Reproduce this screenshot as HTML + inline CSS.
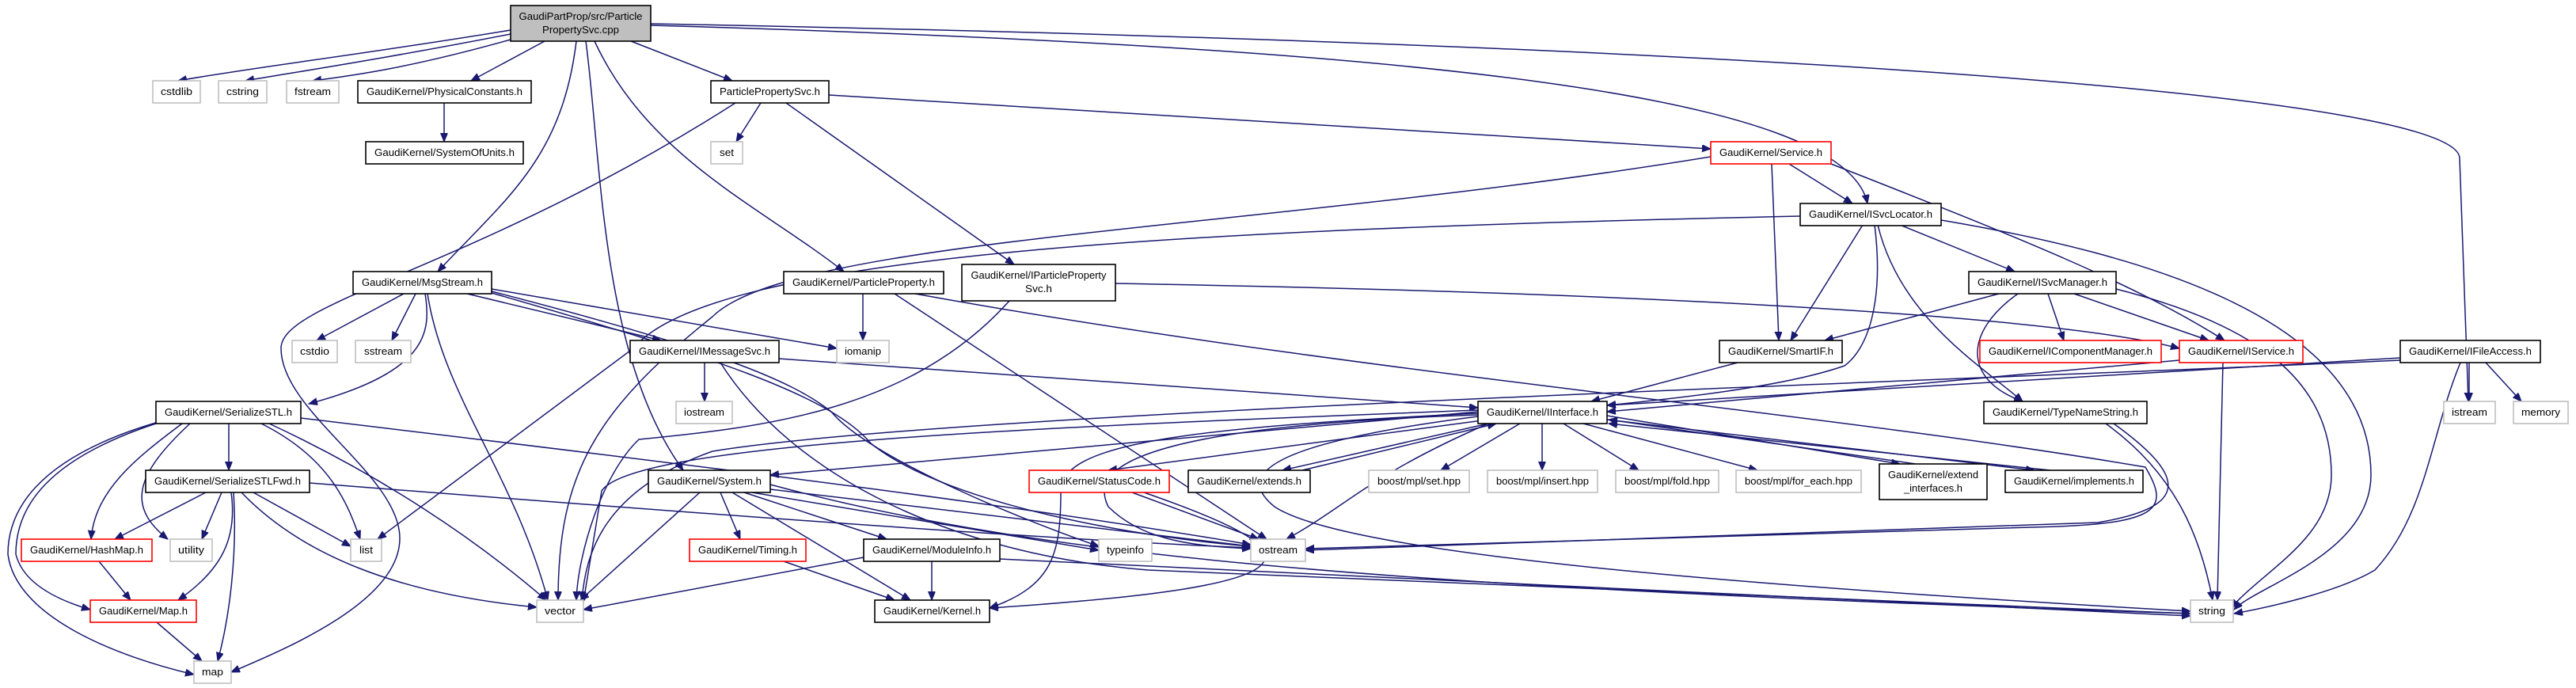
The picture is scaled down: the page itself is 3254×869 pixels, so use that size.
<!DOCTYPE html>
<html><head><meta charset="utf-8"><style>
html,body{margin:0;padding:0;background:#fff}
svg{display:block}
text{font-family:"Liberation Sans",Arial,sans-serif;font-size:13px;fill:#000}
.e{fill:none;stroke:#191970;stroke-width:1.5}
.b{fill:#fff;stroke:#000;stroke-width:1.6}
.g{fill:#fff;stroke:#bfbfbf;stroke-width:1.6}
.r{fill:#fff;stroke:#ff0000;stroke-width:1.6}
</style></head><body>
<svg width="3254" height="869" viewBox="0 0 3254 869" xmlns="http://www.w3.org/2000/svg">
<defs><marker id="a" markerUnits="userSpaceOnUse" markerWidth="12" markerHeight="10" refX="11" refY="4.5" orient="auto"><path d="M0,0 L11,4.5 L0,9 z" fill="#191970" stroke="#191970"/></marker></defs>
<g class="e" marker-end="url(#a)">
<path d="M645,38 C450,70 320,85 225,102"/>
<path d="M645,43 C480,75 380,90 310,102"/>
<path d="M645,50 C520,85 450,95 395,102"/>
<path d="M688,52 L595,102"/>
<path d="M797,52 L925,102"/>
<path d="M728,52 C710,200 640,250 553,343"/>
<path d="M740,52 C760,200 758,450 863,594"/>
<path d="M751,52 C820,200 960,260 1066,343"/>
<path d="M822,32 C1800,60 2330,120 2359,257"/>
<path d="M822,30 C2400,60 3107,130 3107,200 L3118,507"/>
<path d="M561,130 L561,179"/>
<path d="M961,130 L930,179"/>
<path d="M1047,120 L2161,188"/>
<path d="M993,130 L1281,334"/>
<path d="M929,130 C600,340 355,380 355,440 C355,520 505,600 505,680 C505,760 360,820 292,849"/>
<path d="M2238,207 L2247,430"/>
<path d="M2260,207 L2340,257"/>
<path d="M2313,207 C2550,300 2700,360 2810,430"/>
<path d="M2161,198 C1600,290 1000,300 900,400 C750,520 705,600 705,758"/>
<path d="M2274,273 C1500,290 900,320 800,440 L477,681"/>
<path d="M2353,284 L2262,430"/>
<path d="M2368,284 C2380,380 2360,440 2330,462 C2250,490 2100,505 2030,512"/>
<path d="M2372,284 C2400,400 2500,460 2555,507"/>
<path d="M2400,284 L2545,343"/>
<path d="M2452,278 C2700,320 2995,400 2995,600 C2995,700 2850,740 2822,770"/>
<path d="M2525,371 L2305,430"/>
<path d="M2549,371 C2480,420 2480,480 2555,507"/>
<path d="M2587,371 L2607,430"/>
<path d="M2620,371 L2790,430"/>
<path d="M2673,365 C2850,410 2945,480 2945,600 C2945,680 2860,720 2818,768"/>
<path d="M1409,358 C2100,370 2600,400 2753,440"/>
<path d="M1275,380 C1150,520 960,540 807,555 C760,600 730,700 728,758"/>
<path d="M1090,371 L1090,430"/>
<path d="M1156,371 C1700,470 2300,520 2710,590 C2740,640 2730,660 2600,665 L1649,693"/>
<path d="M1130,371 L1600,681"/>
<path d="M510,371 L400,430"/>
<path d="M525,371 L495,430"/>
<path d="M537,371 C545,420 540,470 390,510"/>
<path d="M590,371 L835,430"/>
<path d="M621,365 L1057,440"/>
<path d="M540,371 C560,500 650,600 692,758"/>
<path d="M621,368 C900,440 1000,480 1050,520 C1100,580 1300,660 1388,690"/>
<path d="M621,370 C900,450 1050,500 1100,560 C1200,640 1450,680 1580,690"/>
<path d="M890,458 L890,507"/>
<path d="M984,453 L1867,515"/>
<path d="M910,458 C1000,600 1200,700 1450,720 L2767,775"/>
<path d="M2195,458 L2010,507"/>
<path d="M2808,458 L2801,758"/>
<path d="M2753,455 L2030,520"/>
<path d="M3032,452 L2030,512"/>
<path d="M3119,458 L3119,507"/>
<path d="M3140,458 L3185,507"/>
<path d="M3108,458 C3070,550 3065,650 3000,720 C2950,750 2850,770 2822,775"/>
<path d="M3032,455 C2500,480 1200,520 900,570 C760,620 740,700 735,758"/>
<path d="M1867,518 C1300,540 800,560 760,620 L737,760"/>
<path d="M1867,520 L973,600"/>
<path d="M1880,530 L1400,594"/>
<path d="M1880,535 L1620,594"/>
<path d="M1645,594 L1890,535"/>
<path d="M1920,535 L1820,594"/>
<path d="M1948,535 L1948,594"/>
<path d="M1975,535 L2070,594"/>
<path d="M2000,535 L2220,594"/>
<path d="M2030,525 L2400,586"/>
<path d="M2420,586 L2032,530"/>
<path d="M2030,530 L2570,594"/>
<path d="M2590,594 L2032,535"/>
<path d="M1880,535 C1730,600 1700,640 1625,681"/>
<path d="M1867,522 C1500,540 1340,560 1340,620 C1340,700 1330,740 1250,768"/>
<path d="M1867,524 C1400,540 1380,600 1400,640 C1440,680 1500,690 1580,693"/>
<path d="M1867,526 C1600,560 1560,600 1610,640 C1700,700 2200,740 2767,772"/>
<path d="M2660,535 C2750,600 2780,680 2795,758"/>
<path d="M2670,535 C2760,600 2770,640 2650,660 L1649,695"/>
<path d="M1430,622 L1590,681"/>
<path d="M1445,622 C1670,700 1680,740 1250,768"/>
<path d="M884,622 L733,758"/>
<path d="M910,622 L935,681"/>
<path d="M925,622 L1150,758"/>
<path d="M940,622 L1120,681"/>
<path d="M950,622 L1388,695"/>
<path d="M973,618 L1580,690"/>
<path d="M973,612 C1300,700 1700,740 2767,775"/>
<path d="M990,709 L1130,758"/>
<path d="M1177,709 L1177,758"/>
<path d="M1091,704 L737,770"/>
<path d="M1263,706 L2767,778"/>
<path d="M289,535 L289,594"/>
<path d="M230,535 C170,580 120,620 115,681"/>
<path d="M197,535 C60,580 20,640 20,700 C30,740 80,760 114,770"/>
<path d="M240,535 C170,600 160,640 212,681"/>
<path d="M330,535 C420,580 440,640 455,681"/>
<path d="M340,535 C480,600 600,680 690,758"/>
<path d="M200,533 C40,580 10,650 10,700 C20,780 150,830 245,852"/>
<path d="M380,528 C900,590 1300,640 1580,688"/>
<path d="M260,622 L145,681"/>
<path d="M280,622 L255,681"/>
<path d="M292,622 C300,680 280,720 225,758"/>
<path d="M295,622 C300,700 290,780 275,835"/>
<path d="M320,622 L443,690"/>
<path d="M305,622 C380,700 500,750 678,767"/>
<path d="M391,610 C900,650 1300,680 1580,692"/>
<path d="M125,709 L165,758"/>
<path d="M198,786 L255,835"/>
</g>
<g>
<rect class="b" x="645" y="7" width="177" height="45" style="fill:#bfbfbf"/>
<text x="733.5" y="25" text-anchor="middle" textLength="156" lengthAdjust="spacingAndGlyphs">GaudiPartProp/src/Particle</text>
<text x="733.5" y="42" text-anchor="middle" textLength="97" lengthAdjust="spacingAndGlyphs">PropertySvc.cpp</text>

<rect class="g" x="193" y="102" width="60" height="28"/><text x="223" y="120" text-anchor="middle" textLength="40" lengthAdjust="spacingAndGlyphs">cstdlib</text>
<rect class="g" x="276" y="102" width="61" height="28"/><text x="306.5" y="120" text-anchor="middle" textLength="41" lengthAdjust="spacingAndGlyphs">cstring</text>
<rect class="g" x="362" y="102" width="66" height="28"/><text x="395" y="120" text-anchor="middle" textLength="46" lengthAdjust="spacingAndGlyphs">fstream</text>
<rect class="b" x="452" y="102" width="219" height="28"/><text x="561.5" y="120" text-anchor="middle" textLength="197" lengthAdjust="spacingAndGlyphs">GaudiKernel/PhysicalConstants.h</text>
<rect class="b" x="898" y="102" width="149" height="28"/><text x="972.5" y="120" text-anchor="middle" textLength="127" lengthAdjust="spacingAndGlyphs">ParticlePropertySvc.h</text>

<rect class="b" x="462" y="179" width="199" height="28"/><text x="561.5" y="197" text-anchor="middle" textLength="177" lengthAdjust="spacingAndGlyphs">GaudiKernel/SystemOfUnits.h</text>
<rect class="g" x="898" y="179" width="40" height="28"/><text x="918" y="197" text-anchor="middle" textLength="18" lengthAdjust="spacingAndGlyphs">set</text>
<rect class="r" x="2161" y="179" width="152" height="28"/><text x="2237" y="197" text-anchor="middle" textLength="130" lengthAdjust="spacingAndGlyphs">GaudiKernel/Service.h</text>

<rect class="b" x="2274" y="257" width="178" height="28"/><text x="2363" y="275" text-anchor="middle" textLength="156" lengthAdjust="spacingAndGlyphs">GaudiKernel/ISvcLocator.h</text>

<rect class="b" x="446" y="343" width="175" height="28"/><text x="533.5" y="361" text-anchor="middle" textLength="153" lengthAdjust="spacingAndGlyphs">GaudiKernel/MsgStream.h</text>
<rect class="b" x="990" y="343" width="202" height="28"/><text x="1091" y="361" text-anchor="middle" textLength="180" lengthAdjust="spacingAndGlyphs">GaudiKernel/ParticleProperty.h</text>
<rect class="b" x="1215" y="334" width="194" height="46"/>
<text x="1312" y="352" text-anchor="middle" textLength="171" lengthAdjust="spacingAndGlyphs">GaudiKernel/IParticleProperty</text>
<text x="1312" y="369" text-anchor="middle" textLength="34" lengthAdjust="spacingAndGlyphs">Svc.h</text>
<rect class="b" x="2487" y="343" width="186" height="28"/><text x="2580" y="361" text-anchor="middle" textLength="164" lengthAdjust="spacingAndGlyphs">GaudiKernel/ISvcManager.h</text>

<rect class="g" x="369" y="430" width="57" height="28"/><text x="397.5" y="448" text-anchor="middle" textLength="37" lengthAdjust="spacingAndGlyphs">cstdio</text>
<rect class="g" x="449" y="430" width="70" height="28"/><text x="484" y="448" text-anchor="middle" textLength="48" lengthAdjust="spacingAndGlyphs">sstream</text>
<rect class="b" x="796" y="430" width="188" height="28"/><text x="890" y="448" text-anchor="middle" textLength="166" lengthAdjust="spacingAndGlyphs">GaudiKernel/IMessageSvc.h</text>
<rect class="g" x="1057" y="430" width="66" height="28"/><text x="1090" y="448" text-anchor="middle" textLength="46" lengthAdjust="spacingAndGlyphs">iomanip</text>
<rect class="b" x="2172" y="430" width="155" height="28"/><text x="2249.5" y="448" text-anchor="middle" textLength="133" lengthAdjust="spacingAndGlyphs">GaudiKernel/SmartIF.h</text>
<rect class="r" x="2501" y="430" width="229" height="28"/><text x="2615.5" y="448" text-anchor="middle" textLength="207" lengthAdjust="spacingAndGlyphs">GaudiKernel/IComponentManager.h</text>
<rect class="r" x="2753" y="430" width="156" height="28"/><text x="2831" y="448" text-anchor="middle" textLength="134" lengthAdjust="spacingAndGlyphs">GaudiKernel/IService.h</text>
<rect class="b" x="3032" y="430" width="177" height="28"/><text x="3120.5" y="448" text-anchor="middle" textLength="155" lengthAdjust="spacingAndGlyphs">GaudiKernel/IFileAccess.h</text>

<rect class="b" x="197" y="507" width="183" height="28"/><text x="288.5" y="525" text-anchor="middle" textLength="161" lengthAdjust="spacingAndGlyphs">GaudiKernel/SerializeSTL.h</text>
<rect class="g" x="854" y="507" width="71" height="28"/><text x="889.5" y="525" text-anchor="middle" textLength="51" lengthAdjust="spacingAndGlyphs">iostream</text>
<rect class="b" x="1867" y="507" width="163" height="28"/><text x="1948.5" y="525" text-anchor="middle" textLength="141" lengthAdjust="spacingAndGlyphs">GaudiKernel/IInterface.h</text>
<rect class="b" x="2506" y="507" width="206" height="28"/><text x="2609" y="525" text-anchor="middle" textLength="184" lengthAdjust="spacingAndGlyphs">GaudiKernel/TypeNameString.h</text>
<rect class="g" x="3087" y="507" width="65" height="28"/><text x="3119.5" y="525" text-anchor="middle" textLength="45" lengthAdjust="spacingAndGlyphs">istream</text>
<rect class="g" x="3175" y="507" width="69" height="28"/><text x="3209.5" y="525" text-anchor="middle" textLength="49" lengthAdjust="spacingAndGlyphs">memory</text>

<rect class="b" x="184" y="594" width="207" height="28"/><text x="287.5" y="612" text-anchor="middle" textLength="185" lengthAdjust="spacingAndGlyphs">GaudiKernel/SerializeSTLFwd.h</text>
<rect class="b" x="819" y="594" width="154" height="28"/><text x="896" y="612" text-anchor="middle" textLength="132" lengthAdjust="spacingAndGlyphs">GaudiKernel/System.h</text>
<rect class="r" x="1300" y="594" width="177" height="28"/><text x="1388.5" y="612" text-anchor="middle" textLength="155" lengthAdjust="spacingAndGlyphs">GaudiKernel/StatusCode.h</text>
<rect class="b" x="1501" y="594" width="154" height="28"/><text x="1578" y="612" text-anchor="middle" textLength="132" lengthAdjust="spacingAndGlyphs">GaudiKernel/extends.h</text>
<rect class="g" x="1729" y="594" width="127" height="28"/><text x="1792.5" y="612" text-anchor="middle" textLength="105" lengthAdjust="spacingAndGlyphs">boost/mpl/set.hpp</text>
<rect class="g" x="1879" y="594" width="139" height="28"/><text x="1948.5" y="612" text-anchor="middle" textLength="117" lengthAdjust="spacingAndGlyphs">boost/mpl/insert.hpp</text>
<rect class="g" x="2041" y="594" width="130" height="28"/><text x="2106" y="612" text-anchor="middle" textLength="108" lengthAdjust="spacingAndGlyphs">boost/mpl/fold.hpp</text>
<rect class="g" x="2193" y="594" width="158" height="28"/><text x="2272" y="612" text-anchor="middle" textLength="136" lengthAdjust="spacingAndGlyphs">boost/mpl/for_each.hpp</text>
<rect class="b" x="2374" y="586" width="136" height="45"/>
<text x="2442" y="604" text-anchor="middle" textLength="114" lengthAdjust="spacingAndGlyphs">GaudiKernel/extend</text>
<text x="2442" y="621" text-anchor="middle" textLength="74" lengthAdjust="spacingAndGlyphs">_interfaces.h</text>
<rect class="b" x="2533" y="594" width="174" height="28"/><text x="2620" y="612" text-anchor="middle" textLength="152" lengthAdjust="spacingAndGlyphs">GaudiKernel/implements.h</text>

<rect class="r" x="27" y="681" width="165" height="28"/><text x="109.5" y="699" text-anchor="middle" textLength="143" lengthAdjust="spacingAndGlyphs">GaudiKernel/HashMap.h</text>
<rect class="g" x="215" y="681" width="53" height="28"/><text x="241.5" y="699" text-anchor="middle" textLength="33" lengthAdjust="spacingAndGlyphs">utility</text>
<rect class="g" x="443" y="681" width="39" height="28"/><text x="462.5" y="699" text-anchor="middle" textLength="17" lengthAdjust="spacingAndGlyphs">list</text>
<rect class="r" x="871" y="681" width="147" height="28"/><text x="944.5" y="699" text-anchor="middle" textLength="125" lengthAdjust="spacingAndGlyphs">GaudiKernel/Timing.h</text>
<rect class="b" x="1091" y="681" width="172" height="28"/><text x="1177" y="699" text-anchor="middle" textLength="150" lengthAdjust="spacingAndGlyphs">GaudiKernel/ModuleInfo.h</text>
<rect class="g" x="1388" y="681" width="67" height="28"/><text x="1421.5" y="699" text-anchor="middle" textLength="47" lengthAdjust="spacingAndGlyphs">typeinfo</text>
<rect class="g" x="1580" y="681" width="69" height="28"/><text x="1614.5" y="699" text-anchor="middle" textLength="49" lengthAdjust="spacingAndGlyphs">ostream</text>

<rect class="r" x="114" y="758" width="134" height="28"/><text x="181" y="776" text-anchor="middle" textLength="112" lengthAdjust="spacingAndGlyphs">GaudiKernel/Map.h</text>
<rect class="g" x="678" y="758" width="59" height="28"/><text x="707.5" y="776" text-anchor="middle" textLength="39" lengthAdjust="spacingAndGlyphs">vector</text>
<rect class="b" x="1105" y="758" width="145" height="28"/><text x="1177.5" y="776" text-anchor="middle" textLength="123" lengthAdjust="spacingAndGlyphs">GaudiKernel/Kernel.h</text>
<rect class="g" x="2767" y="758" width="54" height="28"/><text x="2794" y="776" text-anchor="middle" textLength="34" lengthAdjust="spacingAndGlyphs">string</text>

<rect class="g" x="245" y="835" width="47" height="28"/><text x="268.5" y="853" text-anchor="middle" textLength="27" lengthAdjust="spacingAndGlyphs">map</text>
</g>
</svg>
</body></html>
